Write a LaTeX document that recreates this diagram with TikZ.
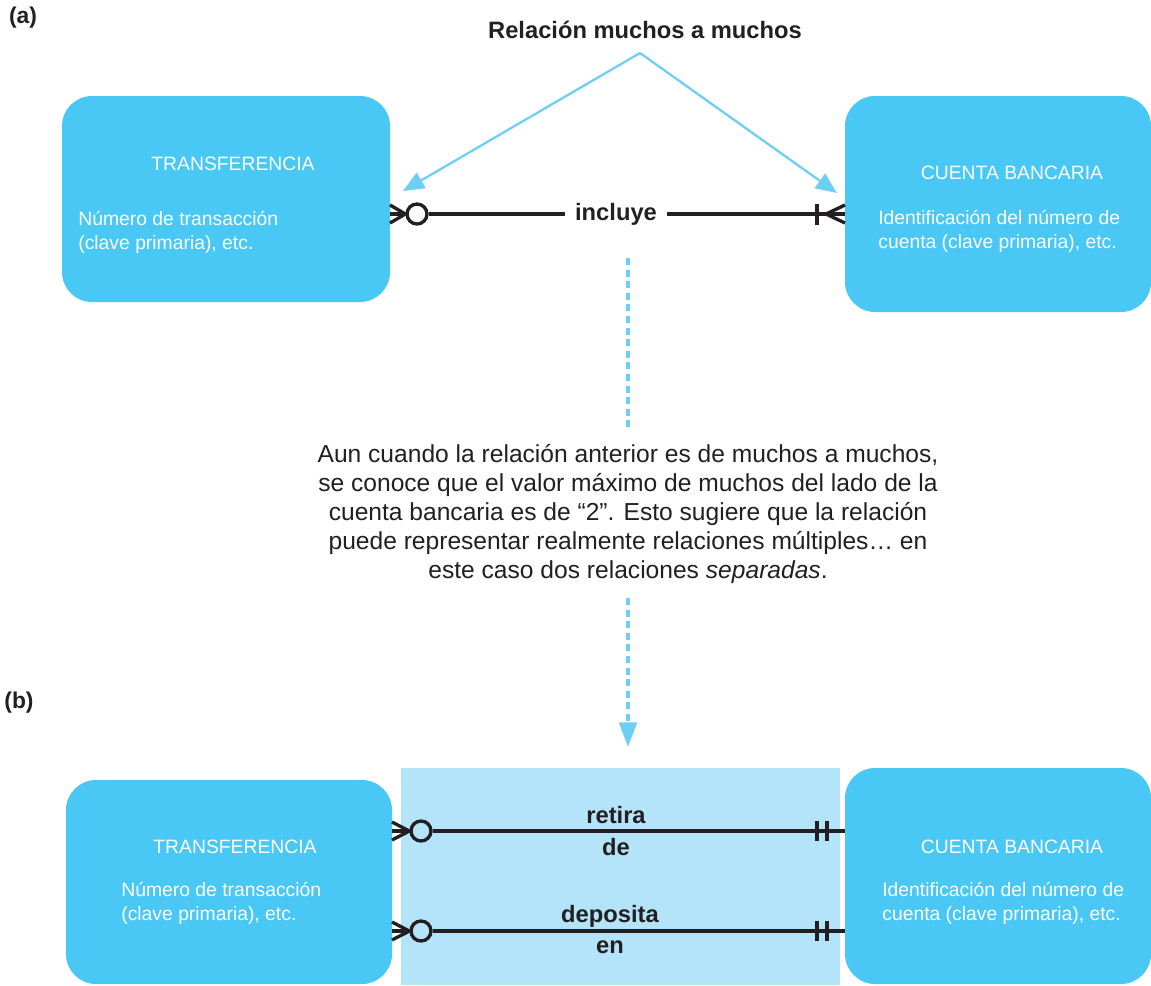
\documentclass[tikz,border=0pt]{standalone}
\usepackage{fontspec}
\setmainfont{Liberation Sans}
\usetikzlibrary{arrows.meta}
\definecolor{boxblue}{HTML}{49C8F5}
\definecolor{panelblue}{HTML}{B4E4F9}
\definecolor{arrblue}{HTML}{6DCFF6}
\definecolor{ink}{HTML}{231F20}
\begin{document}
\begin{tikzpicture}[x=0.02cm,y=-0.02cm,
  entity/.style={fill=boxblue,draw=none,rounded corners=0.6cm},
  etitle/.style={text=white,font=\fontsize{11}{13.6}\selectfont,inner sep=0pt},
  ebody/.style={text=white,font=\fontsize{11}{13.6}\selectfont,align=left,inner sep=0pt,anchor=west},
  rel/.style={draw=ink,line width=1.9pt},
  zero/.style={draw=ink,line width=1.9pt,circle,inner sep=0pt,minimum size=0.4cm},
  rlabel/.style={font=\bfseries\fontsize{13.5}{16}\selectfont,text=ink,inner sep=0pt},
  pointer/.style={draw=arrblue,line width=1.3pt,-{Triangle[length=12pt,width=10pt]}},
  dashline/.style={draw=arrblue,line width=2pt,dash pattern=on 4pt off 2.6pt},
  tag/.style={font=\bfseries\fontsize{13}{16}\selectfont,text=ink,inner sep=0pt}]
\useasboundingbox (0,0) rectangle (1151,985);

% ---------- (a) ----------
\node[tag] (taga) at (23,18) {(a)};
\node[rlabel] (title) at (645,30) {Relación muchos a muchos};

\fill[entity] (62,96) rectangle (390,302);
\fill[entity] (845,96) rectangle (1151,312);
\node[etitle] (t1) at (233,164) {TRANSFERENCIA};
\node[ebody] (b1) at (78,232) {Número de transacción\\(clave primaria), etc.};
\node[etitle] (t2) at (1012,173) {CUENTA BANCARIA};
\node[ebody] (b2) at (878,231) {Identificación del número de\\cuenta (clave primaria), etc.};

\coordinate (apex) at (640,53);
\coordinate (tipL) at (403,191);
\coordinate (tipR) at (837,193);
\draw[pointer] (apex) -- (tipL);
\draw[pointer] (apex) -- (tipR);

\coordinate (aL) at (390,214);
\coordinate (aR) at (845,214);
\node[rlabel] (incl) at (616,214) {incluye};
% left end: many (crow foot) + zero (circle)
\node[zero] (oA) at (417,214) {};
\draw[rel] (aL) -- (oA.west);
\draw[rel] (390,205) -- (oA.west) -- (390,223);
\draw[rel] (oA.east) -- ([xshift=-0.2cm]incl.west);
\draw[rel] ([xshift=0.2cm]incl.east) -- (aR);
% right end: one (bar) + many (crow foot)
\draw[rel] (817,204) -- (817,225);
\draw[rel] (845,205) -- (826,214) -- (845,223);

\coordinate (d1s) at (628,258);
\coordinate (d1e) at (628,430);
\draw[dashline] (d1s) -- (d1e);

\node[align=center,font=\fontsize{14}{16.4}\selectfont,text=ink,inner sep=0pt] (para) at (628,514)
{Aun cuando la relación anterior es de muchos a muchos,\\
se conoce que el valor máximo de muchos del lado de la\\
cuenta bancaria es de “2”. Esto sugiere que la relación\\
puede representar realmente relaciones múltiples… en\\
este caso dos relaciones \textit{separadas}.};

\coordinate (d2s) at (628,598);
\coordinate (d2e) at (628,747);
\draw[dashline,-{Triangle[length=14pt,width=10pt]}] (d2s) -- (d2e);

% ---------- (b) ----------
\node[tag] (tagb) at (19,703) {(b)};
\fill[panelblue] (401,768) rectangle (840,985);
\fill[entity] (66,780) rectangle (392,984);
\fill[entity] (845,768) rectangle (1151,984);
\node[etitle] (t3) at (235,847) {TRANSFERENCIA};
\node[ebody] (b3) at (121,903) {Número de transacción\\(clave primaria), etc.};
\node[etitle] (t4) at (1012,847) {CUENTA BANCARIA};
\node[ebody] (b4) at (882,903) {Identificación del número de\\cuenta (clave primaria), etc.};

\foreach \yy/\nm in {831/u,931/v}{
  \node[zero] (o\nm) at (421,\yy) {};
  \coordinate (s\nm) at (392,\yy);
  \coordinate (e\nm) at (845,\yy);
  \draw[rel] (s\nm) -- (o\nm.west);
  \draw[rel] (392,\yy-9) -- (o\nm.west) -- (392,\yy+9);
  \draw[rel] (o\nm.east) -- (e\nm);
  \draw[rel] (817,\yy-10) -- (817,\yy+10);
  \draw[rel] (827,\yy-10) -- (827,\yy+10);
}
\node[rlabel] (l1) at (616,815) {retira};
\node[rlabel] (l2) at (616,847) {de};
\node[rlabel] (l3) at (610,916) {deposita};
\node[rlabel] (l4) at (610,947) {en};
\end{tikzpicture}
\end{document}
